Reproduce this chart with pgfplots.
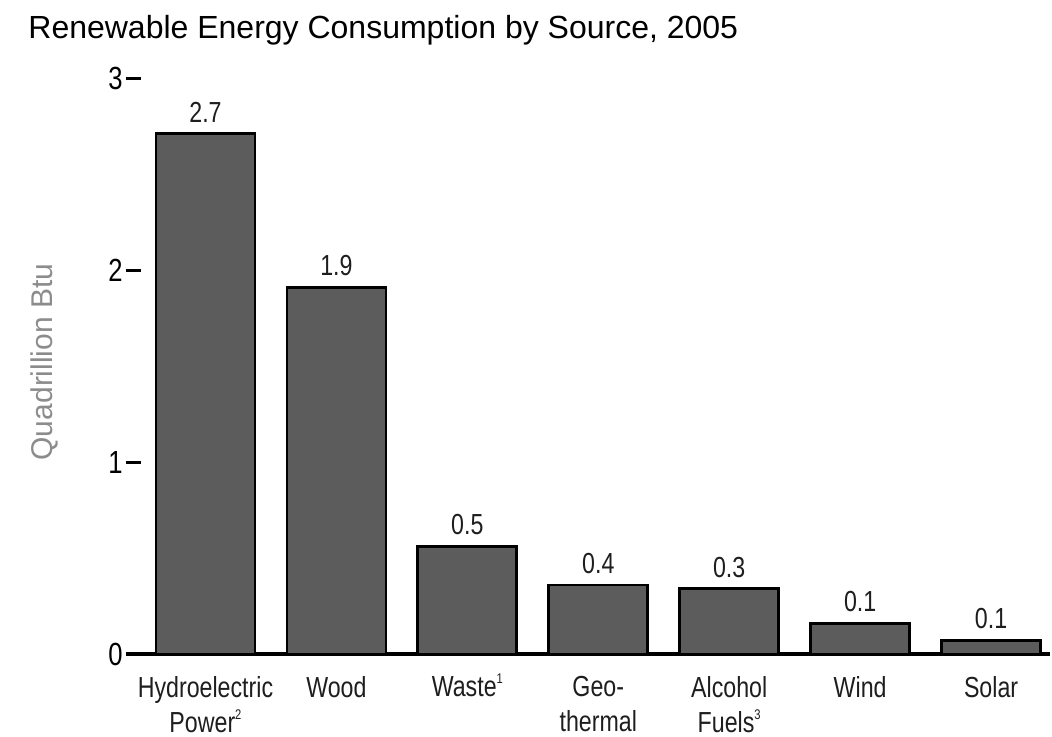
\documentclass[border=0pt]{standalone}
\usepackage{pgfplots}
\pgfplotsset{compat=1.18}
\usepackage{fontspec}
\setmainfont{Liberation Sans}
\newfontfamily\narrowfont{Liberation Sans}[FakeStretch=0.8]
\definecolor{barfill}{RGB}{92,92,92}
\definecolor{labgray}{RGB}{140,140,140}
\definecolor{txt}{RGB}{30,30,30}
\newcommand{\fn}[1]{\smash{\raisebox{0.45em}{\fontsize{7}{7}\selectfont #1}}}
\begin{document}
\begin{tikzpicture}
\useasboundingbox (0,0) rectangle (526pt,-368pt);
\node[anchor=base west, inner sep=0pt, font=\fontsize{16}{16}\selectfont, text=black] at (14pt,-19pt) {Renewable Energy Consumption by Source, 2005};
\begin{axis}[
  at={(63pt,-327pt)}, anchor=south west,
  scale only axis, width=462pt, height=288pt,
  xmin=-0.607, xmax=6.45, ymin=0, ymax=3,
  axis x line=bottom, axis y line=left,
  x axis line style={line width=1.8pt, -},
  y axis line style={draw=none},
  clip=false,
  ybar, bar width=49.5pt, bar shift=0pt,
  ytick={0,1,2,3},
  tick align=inside, major tick length=7.5pt,
  ytick style={line width=1.5pt, black},
  xtick={0,1,2,3,4,5,6},
  xtick style={draw=none},
  xticklabels={Hydroelectric\\Power\fn{2}, Wood, Waste\fn{1}, Geo-\\thermal, Alcohol\\Fuels\fn{3}, Wind, Solar},
  xticklabel style={align=center, inner sep=0pt, yshift=-11pt, text=txt, font=\narrowfont\fontsize{14.5}{17.5}\selectfont},
  /pgf/number format/assume math mode=true,
  yticklabel style={inner sep=1.5pt, text=black, font=\narrowfont\fontsize{16}{16}\selectfont},
  ylabel={Quadrillion Btu},
  every axis y label/.style={at={(rel axis cs:-0.0887,0.507)}, rotate=90, anchor=center, text=labgray, font=\fontsize{15}{15}\selectfont},
  point meta=explicit symbolic,
  nodes near coords={\pgfplotspointmeta},
  every node near coord/.append style={anchor=south, inner sep=0pt, yshift=5pt, text=txt, font=\narrowfont\fontsize{14.5}{14.5}\selectfont},
]
\addplot[fill=barfill, draw=black, line width=1.4pt] table[meta=label] {
x y label
0 2.71 2.7
1 1.91 1.9
2 0.56 0.5
3 0.36 0.4
4 0.34 0.3
5 0.16 0.1
6 0.07 0.1
};
\end{axis}
\end{tikzpicture}
\end{document}
